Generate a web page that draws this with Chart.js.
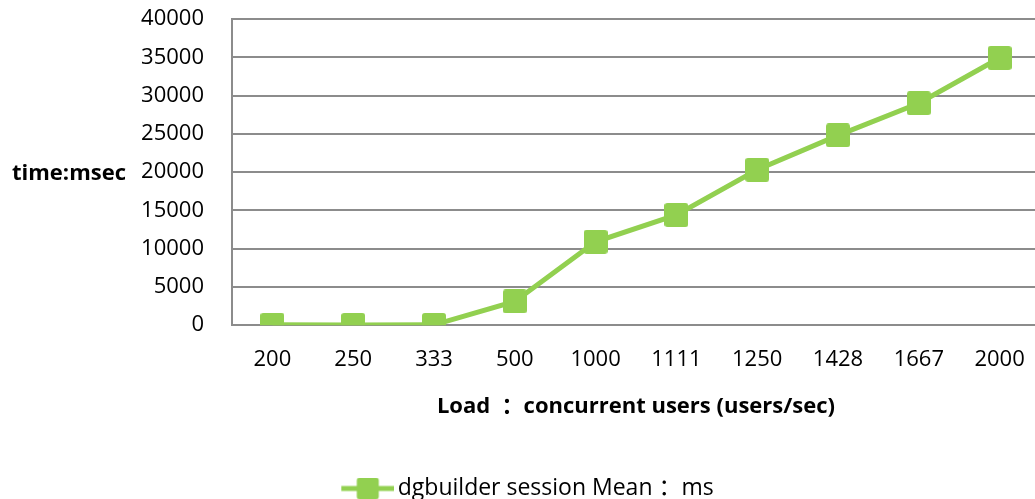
<!DOCTYPE html>
<html>
<head>
<meta charset="utf-8">
<script src="https://cdn.jsdelivr.net/npm/chart.js@4/dist/chart.umd.min.js"></script>
<style>
  html, body { margin: 0; padding: 0; background: #fff; overflow: hidden; }
  #wrap { width: 1035px; height: 499px; overflow: hidden; }
  canvas { display: block; }
</style>
</head>
<body>
<div id="wrap"><canvas id="c" width="1040" height="510"></canvas></div>
<script>
const categories = ['200', '250', '333', '500', '1000', '1111', '1250', '1428', '1667', '2000'];
const meanMs = [60, 40, 50, 3100, 10900, 14400, 20300, 24800, 29000, 34900];
const yMin = 0;
const yMax = 40000;
const yStep = 5000;
const seriesLabel = 'dgbuilder session Mean \uFF1Ams';
const xTitle = 'Load  \uFF1Aconcurrent users (users/sec)';
const yTitle = 'time:msec';

const GREEN = '#92D050';
const GRID = '#8c8c8c';
const FONT = '"Open Sans", "Noto Sans CJK SC", sans-serif';

function makeMarker(size, r) {
  const c = document.createElement('canvas');
  c.width = size; c.height = size;
  const g = c.getContext('2d');
  g.fillStyle = GREEN;
  g.beginPath();
  g.roundRect(0, 0, size, size, r);
  g.fill();
  return c;
}
// legend glyph: transparent lead-in on the left, then line + square
function makeLegendMarker(lead, w, size, r) {
  const c = document.createElement('canvas');
  c.width = lead + w; c.height = size;
  const g = c.getContext('2d');
  g.fillStyle = GREEN;
  g.fillRect(lead, size / 2 - 2.5, w, 5);
  g.beginPath();
  g.roundRect(lead + (w - size) / 2, 0, size, size, r);
  g.fill();
  return c;
}
const marker = makeMarker(24, 3);
const legendMarker = makeLegendMarker(23, 53, 22, 3);

const yTitlePlugin = {
  id: 'yTitle',
  afterDraw(chart) {
    const ctx = chart.ctx;
    const a = chart.chartArea;
    ctx.save();
    ctx.font = 'bold 22px ' + FONT;
    ctx.fillStyle = '#000';
    ctx.textAlign = 'left';
    ctx.textBaseline = 'middle';
    ctx.fillText(yTitle, 12, (a.top + a.bottom) / 2 + 2);
    ctx.restore();
  }
};

new Chart(document.getElementById('c'), {
  type: 'line',
  data: {
    labels: categories,
    datasets: [{
      label: seriesLabel,
      data: meanMs,
      borderColor: GREEN,
      backgroundColor: GREEN,
      borderWidth: 5,
      tension: 0,
      pointStyle: marker,
      pointRadius: 12,
      pointHoverRadius: 12
    }]
  },
  options: {
    responsive: false,
    animation: false,
    layout: { autoPadding: false, padding: { top: 19, left: 0, right: 0, bottom: 0 } },
    scales: {
      x: {
        offset: true,
        afterFit(scale) { scale.paddingLeft = 0; scale.paddingRight = 0; },
        grid: { display: false, drawTicks: false },
        border: { display: false },
        ticks: { color: '#000', font: { family: FONT, size: 22 }, padding: 21, maxRotation: 0 },
        title: {
          display: true,
          text: xTitle,
          color: '#000',
          font: { family: FONT, size: 22, weight: 'bold' },
          padding: { top: 0, bottom: 57 }
        }
      },
      y: {
        min: yMin,
        max: yMax,
        afterFit(scale) { scale.width = 232; scale.paddingTop = 0; scale.paddingBottom = 0; },
        ticks: { stepSize: yStep, color: '#000', font: { family: FONT, size: 22 }, padding: 28,
                 callback: v => String(v) },
        grid: { color: GRID, lineWidth: 2, drawTicks: false },
        border: { display: true, color: GRID, width: 2 }
      }
    },
    plugins: {
      legend: {
        position: 'bottom',
        labels: {
          usePointStyle: true,
          pointStyleWidth: 60,
          padding: 0,
          color: '#000',
          font: { family: FONT, size: 23 },
          generateLabels(chart) {
            return chart.data.datasets.map((ds, i) => ({
              text: ds.label,
              pointStyle: legendMarker,
              fillStyle: GREEN,
              strokeStyle: GREEN,
              lineWidth: 0,
              datasetIndex: i,
              fontColor: '#000'
            }));
          }
        }
      },
      tooltip: { enabled: false }
    }
  },
  plugins: [yTitlePlugin]
});
</script>
</body>
</html>
